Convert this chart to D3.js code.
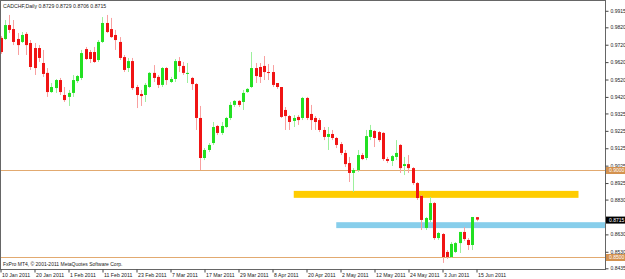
<!DOCTYPE html>
<html>
<head>
<meta charset="utf-8">
<script src="https://cdn.jsdelivr.net/npm/d3@7"></script>
<style>
  body { margin: 0; background: #fff; }
  svg text { font-family: "Liberation Sans", Arial, sans-serif; }
</style>
</head>
<body>
<svg id="chart" width="625" height="279"></svg>
<script>
// CADCHF daily candles, 10 Jan 2011 .. 15 Jun 2011 (one value per trading day)
const open = [0.9759,0.9753,0.9833,0.9810,0.9753,0.9736,0.9782,0.9730,0.9701,0.9701,
  0.9615,0.9558,0.9448,0.9471,0.9517,0.9431,0.9420,0.9443,0.9511,0.9529,
  0.9695,0.9678,0.9678,0.9632,0.9736,0.9845,0.9810,0.9776,0.9736,0.9649,
  0.9586,0.9626,0.9477,0.9437,0.9431,0.9477,0.9558,0.9535,0.9489,0.9586,
  0.9506,0.9523,0.9626,0.9598,0.9552,0.9529,0.9494,0.9299,0.9069,0.9115,
  0.9155,0.9253,0.9213,0.9247,0.9299,0.9374,0.9397,0.9391,0.9448,0.9477,
  0.9586,0.9592,0.9598,0.9563,0.9563,0.9500,0.9477,0.9345,0.9310,0.9282,
  0.9305,0.9299,0.9414,0.9322,0.9299,0.9287,0.9230,0.9190,0.9207,0.9184,
  0.9149,0.9098,0.9040,0.8983,0.9000,0.9086,0.9069,0.9190,0.9224,0.9218,
  0.9213,0.9063,0.9052,0.9075,0.9144,0.9023,0.9034,0.9011,0.8925,0.8851,
  0.8667,0.8713,0.8810,0.8609,0.8632,0.8529,0.8500,0.8529,0.8580,0.8644,
  0.8598,0.8569,0.8729];
const high = [0.9770,0.9862,0.9891,0.9862,0.9787,0.9793,0.9793,0.9747,0.9730,0.9718,
  0.9690,0.9586,0.9500,0.9523,0.9529,0.9477,0.9460,0.9546,0.9546,0.9690,
  0.9707,0.9690,0.9707,0.9747,0.9879,0.9891,0.9874,0.9805,0.9764,0.9661,
  0.9644,0.9644,0.9489,0.9460,0.9500,0.9563,0.9603,0.9546,0.9592,0.9592,
  0.9535,0.9638,0.9649,0.9621,0.9615,0.9535,0.9500,0.9368,0.9126,0.9155,
  0.9276,0.9259,0.9276,0.9305,0.9391,0.9402,0.9402,0.9460,0.9471,0.9678,
  0.9615,0.9615,0.9655,0.9609,0.9603,0.9500,0.9477,0.9362,0.9316,0.9316,
  0.9316,0.9420,0.9420,0.9374,0.9310,0.9299,0.9247,0.9247,0.9230,0.9190,
  0.9161,0.9115,0.9075,0.9011,0.9115,0.9098,0.9230,0.9259,0.9230,0.9224,
  0.9218,0.9075,0.9086,0.9172,0.9149,0.9075,0.9086,0.9017,0.8931,0.8856,
  0.8730,0.8845,0.8816,0.8644,0.8638,0.8540,0.8586,0.8586,0.8644,0.8672,
  0.8609,0.8730,0.8729];
const low = [0.9667,0.9747,0.9787,0.9718,0.9661,0.9730,0.9661,0.9575,0.9546,0.9621,
  0.9535,0.9420,0.9443,0.9443,0.9431,0.9391,0.9368,0.9420,0.9500,0.9517,
  0.9632,0.9615,0.9615,0.9621,0.9730,0.9787,0.9759,0.9690,0.9632,0.9563,
  0.9563,0.9460,0.9356,0.9368,0.9391,0.9471,0.9506,0.9471,0.9477,0.9489,
  0.9500,0.9506,0.9563,0.9546,0.9500,0.9460,0.9230,0.9000,0.9057,0.9103,
  0.9144,0.9201,0.9201,0.9241,0.9287,0.9362,0.9362,0.9345,0.9443,0.9471,
  0.9500,0.9500,0.9517,0.9517,0.9477,0.9466,0.9299,0.9230,0.9230,0.9247,
  0.9259,0.9287,0.9287,0.9230,0.9230,0.9218,0.9172,0.9115,0.9172,0.9126,
  0.9086,0.9017,0.8931,0.8874,0.8989,0.9057,0.9057,0.9172,0.9132,0.9161,
  0.9052,0.9040,0.9023,0.9057,0.8983,0.8971,0.8983,0.8914,0.8828,0.8655,
  0.8655,0.8701,0.8598,0.8598,0.8466,0.8489,0.8494,0.8523,0.8523,0.8592,
  0.8540,0.8540,0.8706];
const close = [0.9678,0.9833,0.9805,0.9736,0.9718,0.9776,0.9718,0.9592,0.9586,0.9644,
  0.9552,0.9448,0.9477,0.9517,0.9448,0.9402,0.9443,0.9517,0.9540,0.9672,
  0.9638,0.9638,0.9621,0.9736,0.9845,0.9793,0.9764,0.9747,0.9644,0.9575,
  0.9626,0.9471,0.9431,0.9425,0.9489,0.9558,0.9529,0.9489,0.9586,0.9517,
  0.9523,0.9626,0.9598,0.9558,0.9558,0.9494,0.9299,0.9069,0.9115,0.9144,
  0.9247,0.9213,0.9253,0.9299,0.9374,0.9397,0.9374,0.9443,0.9466,0.9586,
  0.9540,0.9535,0.9563,0.9558,0.9489,0.9477,0.9305,0.9310,0.9276,0.9299,
  0.9287,0.9414,0.9299,0.9287,0.9276,0.9230,0.9190,0.9207,0.9184,0.9144,
  0.9098,0.9034,0.8983,0.9000,0.9086,0.9063,0.9195,0.9230,0.9184,0.9172,
  0.9063,0.9052,0.9080,0.9098,0.9011,0.9034,0.9011,0.8925,0.8839,0.8713,
  0.8724,0.8810,0.8609,0.8638,0.8500,0.8500,0.8575,0.8580,0.8644,0.8603,
  0.8569,0.8730,0.8715];

const firstDay = "2011-01-10", lastDay = "2011-06-15";
const dateTicks = ["10 Jan 2011","20 Jan 2011","1 Feb 2011","11 Feb 2011","23 Feb 2011",
  "7 Mar 2011","17 Mar 2011","29 Mar 2011","8 Apr 2011","20 Apr 2011","2 May 2011",
  "12 May 2011","24 May 2011","3 Jun 2011","15 Jun 2011"];
// 0.8730 sits under the current-price tag, so it is left out
const priceTicks = ["0.9915","0.9820","0.9720","0.9620","0.9520","0.9420","0.9325","0.9225",
  "0.9125","0.9025","0.8925","0.8830","0.8630","0.8530","0.8435"];

// horizontal levels, zones (bar index from / to, price top / bottom)
const hLevels = [0.9000, 0.8500];
const zones = [
  {from: 69, to: 136, top: 0.8880, bottom: 0.8840, color: "#ffcc00"},
  {from: 79, to: 150, top: 0.8700, bottom: 0.8666, color: "#87ceeb"}
];
const symbol = "CADCHF,Daily";

const svg = d3.select("#chart");
const plotW = 605, plotH = 269;

const parse = d3.utcParse("%Y-%m-%d");
const days = d3.utcDay.range(parse(firstDay), d3.utcDay.offset(parse(lastDay), 1))
  .filter(d => d.getUTCDay() !== 0 && d.getUTCDay() !== 6);
const fmt = d3.utcFormat("%-d %b %Y");
const dayIndex = new Map(days.map((d, i) => [fmt(d), i]));

const x = d3.scaleLinear().domain([0, days.length - 1]).range([0.5, 476.5]);
const y = d3.scaleLinear().domain([0.85, 0.90]).range([257, 170]);

const bars = open.map((o, i) => ({i, o, h: high[i], l: low[i], c: close[i]}));

svg.append("defs").append("clipPath").attr("id", "plot")
  .append("rect").attr("width", plotW).attr("height", plotH);

const plot = svg.append("g").attr("clip-path", "url(#plot)");

// zones
plot.selectAll("rect.zone")
  .data(zones)
  .join("rect")
    .attr("class", "zone")
    .attr("x", d => x(d.from))
    .attr("width", d => x(d.to) - x(d.from))
    .attr("y", d => y(d.top))
    .attr("height", d => y(d.bottom) - y(d.top))
    .attr("fill", d => d.color);

// levels
plot.selectAll("line.level")
  .data(hLevels)
  .join("line")
    .attr("class", "level")
    .attr("x1", 0).attr("x2", plotW)
    .attr("y1", d => Math.round(y(d)) + 0.5)
    .attr("y2", d => Math.round(y(d)) + 0.5)
    .attr("stroke", "#e2aa70")
    .attr("stroke-width", 1);

// wicks
plot.selectAll("line.wick")
  .data(bars)
  .join("line")
    .attr("class", "wick")
    .attr("x1", d => Math.round(x(d.i)) + 0.5)
    .attr("x2", d => Math.round(x(d.i)) + 0.5)
    .attr("y1", d => y(d.h))
    .attr("y2", d => y(d.l))
    .attr("stroke", d => d.c >= d.o ? "#9cf09c" : "#f8a0a0")
    .attr("stroke-width", 1);

// bodies
plot.selectAll("rect.body")
  .data(bars)
  .join("rect")
    .attr("class", "body")
    .attr("x", d => Math.round(x(d.i)) - 1)
    .attr("width", 3)
    .attr("y", d => y(Math.max(d.o, d.c)))
    .attr("height", d => Math.max(1, Math.abs(y(d.o) - y(d.c))))
    .attr("fill", d => d.c >= d.o ? "#22e022" : "#f01414");

// frame
svg.append("rect")
  .attr("x", 0.5).attr("y", 0.5)
  .attr("width", plotW).attr("height", plotH)
  .attr("fill", "none")
  .attr("stroke", "#666");

// right price axis
const yAxis = svg.append("g")
  .attr("transform", `translate(${plotW + 0.5},0)`)
  .call(d3.axisRight(y).tickValues(priceTicks.map(Number)).tickFormat(d3.format(".4f")).tickSize(3).tickPadding(2));
yAxis.select(".domain").remove();
yAxis.selectAll("text").attr("font-size", 5).attr("fill", "#222").attr("font-family", null);
yAxis.selectAll("line").attr("stroke", "#444");

// level labels and current price
const tags = hLevels.map(v => ({v, fill: "#d4924f"}))
  .concat([{v: close[close.length - 1], fill: "#000"}]);
const tag = svg.selectAll("g.tag")
  .data(tags)
  .join("g")
    .attr("class", "tag")
    .attr("transform", d => `translate(${plotW + 1},${y(d.v)})`);
tag.append("rect")
  .attr("x", 0).attr("y", -3)
  .attr("width", 19).attr("height", 7)
  .attr("fill", d => d.fill);
tag.append("text")
  .attr("x", 3).attr("y", 0.5).attr("dy", "0.35em")
  .attr("font-size", 5)
  .attr("fill", "#fff")
  .text(d => d3.format(".4f")(d.v));

// bottom date axis
const xAxis = svg.append("g")
  .attr("transform", `translate(0,${plotH + 0.5})`)
  .call(d3.axisBottom(x)
    .tickValues(dateTicks.map(t => dayIndex.get(t)))
    .tickFormat(i => fmt(days[i]))
    .tickSize(3).tickPadding(1));
xAxis.select(".domain").remove();
xAxis.selectAll("line").attr("stroke", "#444");
xAxis.selectAll("text")
  .attr("text-anchor", "start")
  .attr("dx", 1)
  .attr("font-size", 5.2)
  .attr("fill", "#222")
  .attr("font-family", null);

// captions
const last = open.length - 1;
svg.append("text")
  .attr("x", 3).attr("y", 8)
  .attr("font-size", 5.2)
  .attr("fill", "#222")
  .text(`${symbol}  ${[open[last], high[last], low[last], close[last]].map(d3.format(".4f")).join(" ")}`);

svg.append("text")
  .attr("x", 3).attr("y", 266)
  .attr("font-size", 5)
  .attr("fill", "#222")
  .text("FxPro MT4, © 2001-2011 MetaQuotes Software Corp.");
</script>
</body>
</html>
